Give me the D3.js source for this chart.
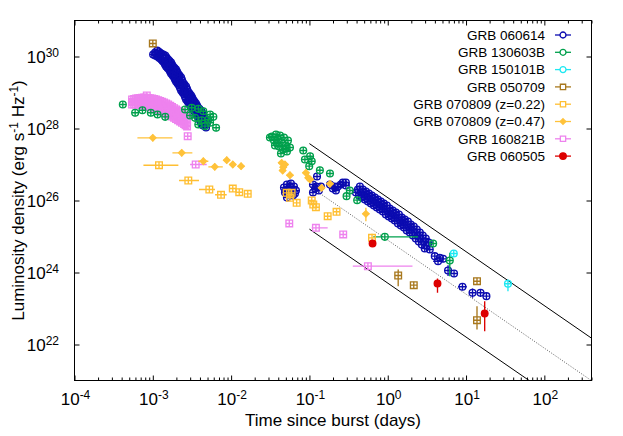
<!DOCTYPE html>
<html>
<head>
<meta charset="utf-8">
<script src="https://cdn.jsdelivr.net/npm/d3@7"></script>
<style>
  body { margin: 0; background: #fff; }
  svg { font-family: "Liberation Sans", Arial, Helvetica, sans-serif; }
</style>
</head>
<body>
<svg id="chart" width="623" height="436"></svg>
<script>
// rows are [t (days), L (erg/s/Hz), tLow, tHigh, LLow, LHigh]; error columns are optional

const grb060614 = [
  [1.14e-3,1.47e30],[1.01e-3,1.14e30],[1.07e-3,1.29e30],[1.28e-3,1.21e30],[1.14e-3,1.0e30],[1.20e-3,1.07e30],
  [1.44e-3,1.07e30],[1.28e-3,8.25e29],[1.35e-3,9.38e29],[1.57e-3,8.25e29],[1.39e-3,6.81e29],[1.48e-3,7.26e29],
  [1.71e-3,6.81e29],[1.48e-3,5.27e29],[1.61e-3,5.99e29],[1.82e-3,5.27e29],[1.61e-3,4.35e29],[1.71e-3,4.64e29],
  [1.98e-3,4.35e29],[1.71e-3,3.37e29],[1.87e-3,3.83e29],[2.10e-3,3.37e29],[1.87e-3,2.61e29],[1.98e-3,2.97e29],
  [2.30e-3,2.61e29],[1.98e-3,2.02e29],[2.16e-3,2.30e29],[2.43e-3,1.90e29],[2.16e-3,1.57e29],[2.30e-3,1.67e29],
  [2.66e-3,1.47e29],[2.30e-3,1.14e29],[2.51e-3,1.29e29],[2.82e-3,1.07e29],[2.51e-3,8.80e28],[2.66e-3,9.38e28],
  [3.08e-3,8.25e28],[2.66e-3,6.39e28],[2.90e-3,7.26e28],[3.27e-3,6.39e28],[2.90e-3,4.95e28],[3.08e-3,5.62e28],
  [3.56e-3,4.95e28],[3.08e-3,3.83e28],[3.36e-3,4.35e28],[3.78e-3,3.83e28],[3.36e-3,3.16e28],[3.56e-3,3.37e28],
  [4.13e-3,3.16e28],[3.56e-3,2.45e28],[3.89e-3,2.78e28],[4.38e-3,2.45e28],[3.89e-3,1.90e28],[4.13e-3,2.15e28],
  [4.64e-3,1.90e28],[4.13e-3,1.47e28],[4.38e-3,1.67e28],[4.92e-3,1.47e28],[4.38e-3,1.21e28],[4.64e-3,1.29e28],
  [4.78e-3,1.07e28],
  [1.21e-3,1.33e30],[1.36e-3,1.14e30],[1.50e-3,9.4e29],[1.64e-3,7.5e29],[1.76e-3,6.0e29],[1.90e-3,4.8e29],
  [2.04e-3,3.8e29],[2.20e-3,2.97e29],[2.36e-3,2.23e29],[2.54e-3,1.67e29],[2.74e-3,1.25e29],[2.95e-3,9.4e28],
  [3.17e-3,7.3e28],[3.41e-3,5.6e28],[3.67e-3,4.35e28],[3.95e-3,3.48e28],[4.25e-3,2.78e28],[4.51e-3,2.16e28],
  [4.78e-3,1.67e28],
  [1.07e-3,1.07e30],[1.21e-3,9.1e29],[1.33e-3,7.5e29],[1.43e-3,6.0e29],[1.54e-3,4.8e29],[1.66e-3,3.83e29],
  [1.79e-3,2.97e29],[1.92e-3,2.30e29],[2.07e-3,1.78e29],[2.23e-3,1.34e29],[2.40e-3,1.0e29],[2.58e-3,7.5e28],
  [2.78e-3,5.62e28],[2.99e-3,4.35e28],[3.22e-3,3.48e28],[3.46e-3,2.78e28],[3.72e-3,2.16e28],[4.01e-3,1.67e28],
  [4.25e-3,1.33e28],
  [4.73e-2,2.30e26],[5.16e-2,2.78e26],[5.80e-2,2.97e26],[6.34e-2,2.45e26],[6.73e-2,1.90e26],[5.31e-2,2.02e26],
  [5.98e-2,1.90e26],[4.87e-2,1.67e26],[5.47e-2,1.47e26],[6.16e-2,1.38e26],[5.16e-2,1.21e26],[6.53e-2,1.57e26],
  [5.6e-2,2.45e26],[5.0e-2,1.9e26],[5.7e-2,1.7e26],
  [1.25e-1,4.64e26],[1.11e-1,2.78e26],[1.18e-1,2.15e26],[1.32e-1,1.90e26],[1.11e-1,1.67e26],[1.40e-1,2.45e26],
  [1.83e-1,2.78e26],[1.99e-1,2.15e26],[2.18e-1,1.90e26],[2.31e-1,2.45e26],[2.52e-1,2.78e26],[2.67e-1,3.16e26],
  [2.92e-1,3.16e26],[2.92e-1,2.61e26],[1.22e-1,2.45e26],[2.08e-1,2.45e26],
  [0.441,2.45e26],[0.392,1.67e26],[0.481,2.02e26],[0.428,1.38e26],[0.526,1.78e26],[0.467,1.21e26],
  [0.574,1.57e26],[0.510,1.07e26],[0.627,1.38e26],[0.558,9.38e25],[0.685,1.21e26],[0.609,8.25e25],
  [0.748,1.07e26],[0.665,7.26e25],[0.817,9.38e25],[0.726,6.39e25],[0.892,8.25e25],[0.793,5.62e25],
  [0.974,7.26e25],[0.866,4.95e25],[1.06,5.99e25],[0.946,4.08e25],[1.16,5.27e25],[1.03,3.59e25],
  [1.27,4.64e25],[1.13,3.16e25],[1.39,4.08e25],[1.23,2.78e25],[1.51,3.37e25],[1.35,2.30e25],
  [1.65,2.97e25],[1.47,2.02e25],[1.81,2.61e25],[1.61,1.78e25],[1.97,2.15e25],[1.75,1.47e25],
  [2.15,1.90e25],[1.91,1.29e25],[2.35,1.57e25],[2.09,1.07e25],[2.57,1.29e25],[2.28,8.80e24],
  [2.80,1.07e25],[2.49,7.26e24],[3.06,8.80e24],[2.72,5.99e24],[3.34,6.81e24],[2.97,4.64e24],
  [3.44,4.35e24],
  [0.416,2.02e26],[0.454,1.67e26],[0.496,1.47e26],[0.541,1.30e26],[0.591,1.14e26],[0.646,1.0e26],
  [0.705,8.8e25],[0.770,7.74e25],[0.841,6.81e25],[0.918,5.99e25],[1.0,4.94e25],[1.09,4.35e25],
  [1.20,3.83e25],[1.31,3.37e25],[1.43,2.78e25],[1.56,2.45e25],[1.71,2.16e25],[1.86,1.78e25],
  [2.03,1.57e25],[2.22,1.30e25],[2.42,1.07e25],[2.64,8.8e24],[2.89,7.26e24],[3.15,5.62e24],
  [3.99,2.84e24],[4.62,2.56e24],[4.39,2.06e24,3.80,5.09],[5.09,2.40e24],
  [5.89,1.14e24,null,null,8.0e23,1.6e24],[7.03,9.38e23],[9.0,4.01e23,7.9,10.2],
  [12.1,2.73e23,null,null,2.0e23,3.6e23],[15.3,2.73e23,null,null,2.1e23,3.4e23],[18.2,2.2e23]
];

const grb130603B = [
  [4.14e-4,4.64e28],[5.95e-4,2.73e28],[7.37e-4,3.22e28],[9.43e-4,2.73e28],[1.15e-3,2.45e28],[1.44e-3,2.11e28],
  [2.58e-3,3.37e28],[3.14e-3,3.76e28],[3.81e-3,3.52e28],[4.42e-3,3.02e28],[5.39e-3,2.45e28],[5.93e-3,2.11e28],
  [2.99e-3,2.30e28],[3.46e-3,1.98e28],[4.21e-3,1.70e28],[5.12e-3,1.78e28],[3.81e-3,1.29e28],[5.39e-3,1.44e28],
  [6.43e-3,1.05e28],[4.64e-3,1.16e28],
  [3.32e-2,5.99e27],[3.74e-2,6.81e27],[4.21e-2,6.39e27],[4.73e-2,5.62e27],[5.32e-2,4.64e27],[3.53e-2,4.64e27],
  [3.97e-2,4.95e27],[4.46e-2,4.08e27],[5.01e-2,3.37e27],[5.64e-2,2.97e27],[3.63e-2,3.37e27],[4.08e-2,3.16e27],
  [4.59e-2,2.61e27],[5.16e-2,2.30e27],[4.33e-2,2.02e27],[3.13e-2,5.62e27],[3.85e-2,3.9e27],[4.9e-2,2.8e27],
  [8.34e-2,2.45e27],[1.02e-1,1.70e27],[8.76e-2,1.38e27],[1.07e-1,1.23e27],[9.94e-2,8.97e26],[1.36e-1,6.94e26],
  [1.83e-1,5.62e26],[3.28e-1,1.90e26],[2.98e-1,1.32e26],[4.07e-1,1.02e26],
  [0.918,9.8e24,0.653,2.44],[3.80,6.39e24],[6.20,2.15e24,null,null,7.89e23,3.52e24]
];

const grb150101B = [
  [6.97,3.37e24],[34.3,4.86e23,null,null,3.02e23,6.39e23]
];

const grb050709 = [
  [1.0e-3,2.30e30],[1.36,8.25e23,null,null,4.16e23,1.21e24],[2.15,4.44e23],[13.8,5.73e23],
  [13.8,4.73e22,null,null,2.61e22,1.16e23]
];

const grb070809a = [
  [1.20e-3,9.56e26,7.59e-4,2.12e-3],[2.84e-3,3.59e26,2.16e-3,3.89e-3],[5.27e-3,2.02e26,3.89e-3,6.23e-3],
  [7.43e-3,1.44e26,6.23e-3,8.79e-3],[1.05e-2,2.15e26],[1.27e-2,1.70e26],[1.63e-2,1.53e26],
  [5.12e-2,1.63e26],[5.93e-2,1.63e26],[5.64e-2,1.19e26],[6.87e-2,8.63e25],[1.07e-1,1.0e26],
  [1.12e-1,7.74e25],[1.21e-1,6.51e25],[1.71e-1,3.66e25],[2.22e-1,4.86e25],
  [0.63,9.2e24,null,null,7.4e24,1.2e25]
];

const grb070809b = [
  [1.0e-3,5.51e27,6.36e-4,1.78e-3],[2.34e-3,2.11e27,1.78e-3,3.20e-3],[4.42e-3,1.23e27,3.81e-3,5.12e-3],
  [6.18e-3,8.63e26,5.12e-3,7.82e-3],[8.79e-3,1.32e27],[1.05e-2,1.0e27],[1.34e-2,8.97e26],
  [4.42e-2,1.11e27],[4.87e-2,1.0e27],[4.63e-2,8.41e26],[4.55e-2,6.81e26],[5.64e-2,5.04e26],
  [9.02e-2,5.88e26],[9.66e-2,4.27e26],[1.02e-1,3.83e26],[1.43e-1,2.25e26],[1.83e-1,2.91e26],
  [0.526,4.27e25,null,null,2.66e25,6.27e25]
];

const grb160821B = [
  [5.44e-4,6.39e28],[6.12e-4,6.81e28],[6.89e-4,7.03e28],[7.75e-4,7.26e28],[8.71e-4,7.03e28],[9.80e-4,6.81e28],
  [1.10e-3,6.39e28],[1.24e-3,5.80e28],[1.39e-3,5.27e28],[1.57e-3,4.64e28],[1.76e-3,3.95e28],[1.98e-3,3.37e28],
  [2.23e-3,2.87e28],[2.51e-3,2.45e28],[2.74e-3,2.02e28],
  [5.44e-4,4.64e28],[6.12e-4,4.64e28],[6.89e-4,4.64e28],[7.75e-4,4.35e28],[8.71e-4,4.08e28],[9.80e-4,3.83e28],
  [1.10e-3,3.48e28],[1.24e-3,3.16e28],[1.39e-3,2.78e28],[1.57e-3,2.45e28],[1.76e-3,2.15e28],[1.98e-3,1.84e28],
  [2.23e-3,1.57e28],[2.51e-3,1.33e28],[2.74e-3,1.14e28],
  [5.44e-4,5.45e28],[6.12e-4,5.6e28],[6.89e-4,5.7e28],[7.75e-4,5.6e28],[8.71e-4,5.35e28],[9.80e-4,5.1e28],
  [1.10e-3,4.7e28],[1.24e-3,4.28e28],[1.39e-3,3.83e28],[1.57e-3,3.37e28],[1.76e-3,2.91e28],[1.98e-3,2.49e28],
  [2.23e-3,2.12e28],[2.51e-3,1.80e28],[2.74e-3,1.52e28],
  [5.77e-4,6.6e28],[6.5e-4,6.9e28],[7.3e-4,7.1e28],[8.2e-4,7.2e28],[9.2e-4,6.9e28],[1.04e-3,6.6e28],
  [1.17e-3,6.1e28],[1.31e-3,5.5e28],[1.48e-3,4.95e28],[1.67e-3,4.3e28],[1.87e-3,3.65e28],[2.10e-3,3.1e28],
  [2.36e-3,2.65e28],[2.62e-3,2.22e28],
  [5.77e-4,4.64e28],[6.5e-4,4.64e28],[7.3e-4,4.5e28],[8.2e-4,4.2e28],[9.2e-4,3.95e28],[1.04e-3,3.65e28],
  [1.17e-3,3.3e28],[1.31e-3,2.96e28],[1.48e-3,2.61e28],[1.67e-3,2.3e28],[1.87e-3,2.0e28],[2.10e-3,1.7e28],
  [2.36e-3,1.44e28],[2.62e-3,1.24e28],
  [8.38e-4,8.25e28],
  [2.79e-3,6.11e27],[3.53e-3,1.0e27,2.99e-3,4.88e-3],[5.53e-2,2.30e25],[1.21e-1,1.74e25,1.07e-1,1.71e-1],
  [2.70e-1,1.14e25],[0.558,1.50e24,0.358,2.07]
];

const grb060505 = [
  [0.640,6.39e24],[4.32,4.95e23,null,null,2.73e23,6.81e23],[17.3,7.26e22,null,null,2.34e22,1.59e23]
];

// t^-1.5 reference lines, end points
const upperLine = [[0.1, 3.8e27], [400, 1.5e22]];
const middleLine = [[0.1, 2.5e26], [400, 9.9e20]];
const lowerLine = [[0.1, 1.6e25], [400, 6.4e19]];

const xTickExps = [-4, -3, -2, -1, 0, 1, 2];
const yTickExps = [22, 24, 26, 28, 30];

const series = [
  {name: 'GRB 060614', data: grb060614, color: '#0b0bb0', shape: 'circle'},
  {name: 'GRB 130603B', data: grb130603B, color: '#00a04c', shape: 'circle'},
  {name: 'GRB 150101B', data: grb150101B, color: '#1ee8f2', shape: 'circle'},
  {name: 'GRB 050709', data: grb050709, color: '#a8781e', shape: 'square'},
  {name: 'GRB 070809 (z=0.22)', data: grb070809a, color: '#ffbf33', shape: 'square'},
  {name: 'GRB 070809 (z=0.47)', data: grb070809b, color: '#ffc23a', shape: 'diamond'},
  {name: 'GRB 160821B', data: grb160821B, color: '#ee82ee', shape: 'square'},
  {name: 'GRB 060505', data: grb060505, color: '#dd0000', shape: 'dot'}
];

const svg = d3.select('#chart');
const L = 74.5, R = 591.5, T = 20.5, B = 380.5;

const x = d3.scaleLog().domain([1e-4, 400]).range([L, R]);
const y = d3.scaleLog().domain([1e21, 1e31]).range([B, T]);

svg.append('clipPath').attr('id', 'plotclip')
  .append('rect').attr('x', L).attr('y', T).attr('width', R - L).attr('height', B - T);

// axes, ticks inside the frame
const xMajor = xTickExps.map(e => Math.pow(10, e));
const xMinor = [];
xMajor.forEach(v => { for (let k = 2; k <= 9; k++) if (v * k <= 400) xMinor.push(v * k); });
const yMajor = yTickExps.map(e => Math.pow(10, e));

const axes = svg.append('g').attr('stroke-width', 1);
axes.append('g').attr('transform', `translate(0,${B})`)
  .call(d3.axisBottom(x).tickValues(xMajor).tickSize(-5).tickFormat(''));
axes.append('g').attr('transform', `translate(0,${B})`)
  .call(d3.axisBottom(x).tickValues(xMinor).tickSize(-3).tickFormat(''));
axes.append('g').attr('transform', `translate(0,${T})`)
  .call(d3.axisTop(x).tickValues(xMajor).tickSize(-5).tickFormat(''));
axes.append('g').attr('transform', `translate(0,${T})`)
  .call(d3.axisTop(x).tickValues(xMinor).tickSize(-3).tickFormat(''));
axes.append('g').attr('transform', `translate(${L},0)`)
  .call(d3.axisLeft(y).tickValues(yMajor).tickSize(-5).tickFormat(''));
axes.append('g').attr('transform', `translate(${R},0)`)
  .call(d3.axisRight(y).tickValues(yMajor).tickSize(-5).tickFormat(''));
axes.selectAll('.domain').remove();
axes.selectAll('.tick line').attr('stroke', '#000');

// tick labels 10^n
svg.append('g').selectAll('text').data(xTickExps).join('text')
  .attr('x', d => x(Math.pow(10, d)) + 1)
  .attr('y', 405)
  .attr('text-anchor', 'middle')
  .attr('font-size', 17)
  .each(function(d) {
    const t = d3.select(this);
    t.append('tspan').text('10');
    t.append('tspan').attr('dy', -6.5).attr('font-size', 12).text(d);
  });

svg.append('g').selectAll('text').data(yTickExps).join('text')
  .attr('x', 59)
  .attr('y', d => y(Math.pow(10, d)) + 6.5)
  .attr('text-anchor', 'end')
  .attr('font-size', 17)
  .each(function(d) {
    const t = d3.select(this);
    t.append('tspan').text('10');
    t.append('tspan').attr('dy', -6.5).attr('font-size', 12).text(d);
  });

// axis titles
svg.append('text')
  .attr('x', (L + R) / 2).attr('y', 426)
  .attr('text-anchor', 'middle').attr('font-size', 17)
  .text('Time since burst (days)');

const ytitle = svg.append('text')
  .attr('transform', `translate(24,${(T + B) / 2}) rotate(-90)`)
  .attr('text-anchor', 'middle').attr('font-size', 17);
ytitle.append('tspan').text('Luminosity density (erg s');
ytitle.append('tspan').attr('dy', -6.5).attr('font-size', 12).text('-1');
ytitle.append('tspan').attr('dy', 6.5).text(' Hz');
ytitle.append('tspan').attr('dy', -6.5).attr('font-size', 12).text('-1');
ytitle.append('tspan').attr('dy', 6.5).text(')');

// reference lines
const plot = svg.append('g').attr('clip-path', 'url(#plotclip)');
const line = d3.line().x(d => x(d[0])).y(d => y(d[1]));
plot.append('path').attr('d', line(upperLine)).attr('stroke', '#000').attr('stroke-width', 1).attr('fill', 'none');
plot.append('path').attr('d', line(middleLine)).attr('stroke', '#333').attr('stroke-width', 0.8)
  .attr('stroke-dasharray', '1,1.6').attr('fill', 'none');
plot.append('path').attr('d', line(lowerLine)).attr('stroke', '#000').attr('stroke-width', 1).attr('fill', 'none');

const symbols = {
  circle: d3.symbol(d3.symbolCircle, 36)(),
  square: d3.symbol(d3.symbolSquare, 44)(),
  diamond: d3.symbol(d3.symbolDiamond2, 26)(),
  dot: d3.symbol(d3.symbolCircle, 34)()
};

function drawSeries(s) {
  const g = plot.append('g').attr('stroke', s.color).attr('stroke-width', 1.35);
  const h = 3.4;
  const pts = g.selectAll('g').data(s.data).join('g');
  pts.append('line')
    .attr('x1', d => d[2] ? x(d[2]) : x(d[0]) - h)
    .attr('x2', d => d[3] ? x(d[3]) : x(d[0]) + h)
    .attr('y1', d => y(d[1])).attr('y2', d => y(d[1]));
  pts.append('line')
    .attr('x1', d => x(d[0])).attr('x2', d => x(d[0]))
    .attr('y1', d => d[4] ? y(d[4]) : y(d[1]) + h)
    .attr('y2', d => d[5] ? y(d[5]) : y(d[1]) - h);
  pts.append('path')
    .attr('d', symbols[s.shape])
    .attr('transform', d => `translate(${x(d[0])},${y(d[1])})`)
    .attr('fill', s.shape === 'diamond' || s.shape === 'dot' ? s.color : 'none');
}

// draw order roughly as in the original
[6, 0, 1, 2, 3, 4, 5, 7].forEach(i => drawSeries(series[i]));

// frame
svg.append('rect').attr('x', L).attr('y', T).attr('width', R - L).attr('height', B - T)
  .attr('fill', 'none').attr('stroke', '#000').attr('stroke-width', 1);

// legend
const legend = svg.append('g');
const rows = legend.selectAll('g').data(series).join('g')
  .attr('transform', (d, i) => `translate(0,${35 + i * 17.3})`);
rows.append('text')
  .attr('x', 545).attr('y', 4.8)
  .attr('text-anchor', 'end').attr('font-size', 13.5)
  .text(d => d.name);
rows.append('line')
  .attr('x1', 555).attr('x2', 571).attr('y1', 0).attr('y2', 0)
  .attr('stroke', d => d.color).attr('stroke-width', 1.3);
rows.append('path')
  .attr('d', d => d3.symbol(d.shape === 'square' ? d3.symbolSquare : d.shape === 'diamond' ? d3.symbolDiamond2 : d3.symbolCircle,
    d.shape === 'dot' ? 34 : d.shape === 'diamond' ? 20 : 28)())
  .attr('transform', 'translate(563,0)')
  .attr('stroke', d => d.color).attr('stroke-width', 1.3)
  .attr('fill', d => (d.shape === 'diamond' || d.shape === 'dot') ? d.color : 'white');
</script>
</body>
</html>
